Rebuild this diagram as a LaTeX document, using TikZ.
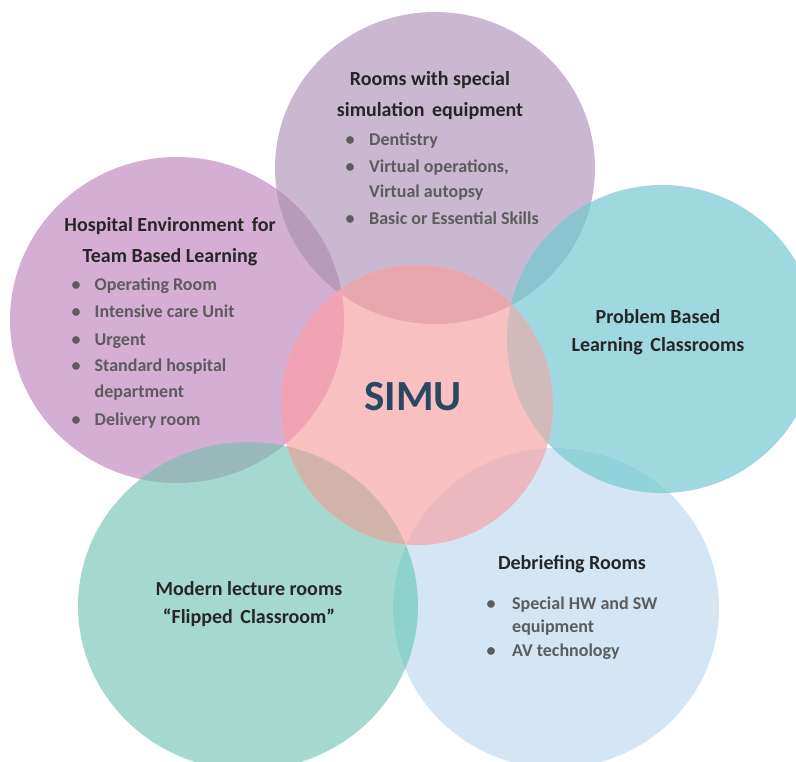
\documentclass[tikz,border=0pt]{standalone}
\usepackage{fontspec}
\setmainfont{Carlito}
\definecolor{cTop}{HTML}{C9B8CF}
\definecolor{cLeft}{HTML}{D4AFD3}
\definecolor{cRight}{HTML}{9FD9DF}
\definecolor{cBL}{HTML}{A5D9CF}
\definecolor{cBR}{HTML}{D4E5F4}
\definecolor{cMid}{HTML}{F8C0C0}
% overlap colours
\definecolor{oTopLeft}{HTML}{B89BBB}
\definecolor{oTopRight}{HTML}{8BC4CF}
\definecolor{oTopMid}{HTML}{E8A6AE}
\definecolor{oLeftMid}{HTML}{EFA3B5}
\definecolor{oLeftBL}{HTML}{98B8BA}
\definecolor{oRightMid}{HTML}{D2B9BC}
\definecolor{oRightBR}{HTML}{92D2DA}
\definecolor{oBLMid}{HTML}{D3B4AC}
\definecolor{oBRMid}{HTML}{EBB8C1}
\definecolor{oBLBR}{HTML}{8FD2CC}
\definecolor{headc}{HTML}{262626}
\definecolor{itemc}{HTML}{5C5C5C}
\definecolor{simuc}{HTML}{2B4863}
% circle outlines as reusable paths
\newcommand\pTop{(435,168) ellipse [x radius=160pt, y radius=156pt]}
\newcommand\pLeft{(177,320) ellipse [x radius=167pt, y radius=163pt]}
\newcommand\pRight{(662,339) ellipse [x radius=155pt, y radius=154pt]}
\newcommand\pBL{(248,606) ellipse [x radius=170pt, y radius=164pt]}
\newcommand\pBR{(556,608) ellipse [x radius=163pt, y radius=160pt]}
\newcommand\pMid{(417,405) ellipse [x radius=136pt, y radius=140pt]}
\newcommand\overlap[3]{\begin{scope}\clip #1; \fill[#3] #2; \end{scope}}
\tikzset{
  head/.style={font=\fontsize{20}{24}\selectfont\bfseries, text=headc, anchor=base, inner sep=0pt},
  item/.style={font=\fontsize{18}{22}\selectfont\bfseries, text=itemc, anchor=base west, inner sep=0pt},
  dot/.style={font=\fontsize{18}{22}\selectfont\bfseries, text=itemc, anchor=base, inner sep=0pt},
}
\begin{document}
\begin{tikzpicture}[x=1pt,y=-1pt]
\useasboundingbox (0,0) rectangle (796,762);
\begin{scope}
\clip (0,0) rectangle (796,762);
% discs
\fill[cTop] \pTop;
\fill[cLeft] \pLeft;
\fill[cRight] \pRight;
\fill[cBL] \pBL;
\fill[cBR] \pBR;
\fill[cMid] \pMid;
% pairwise overlaps of the outer discs
\overlap{\pTop}{\pLeft}{oTopLeft}
\overlap{\pTop}{\pRight}{oTopRight}
\overlap{\pLeft}{\pBL}{oLeftBL}
\overlap{\pRight}{\pBR}{oRightBR}
\overlap{\pBL}{\pBR}{oBLBR}
% overlaps with the central disc
\overlap{\pMid}{\pTop}{oTopMid}
\overlap{\pMid}{\pLeft}{oLeftMid}
\overlap{\pMid}{\pRight}{oRightMid}
\overlap{\pMid}{\pBL}{oBLMid}
\overlap{\pMid}{\pBR}{oBRMid}
\end{scope}

% centre label
\node[font=\fontsize{43}{50}\selectfont\bfseries, text=simuc, anchor=base, inner sep=0pt] (simu) at (413,410) {SIMU};

% top disc
\node[head] (top1) at (430,86) {Rooms with special};
\node[head] (top2) at (430,117) {simulation\hspace{3pt} equipment};
\node[dot] (td1) at (350,146) {\textbullet};
\node[item] (ti1) at (369,146) {Dentistry};
\node[dot] (td2) at (350,172.5) {\textbullet};
\node[item] (ti2) at (369,172.5) {Virtual operations,};
\node[item] (ti2b) at (369,198) {Virtual autopsy};
\node[dot] (td3) at (350,225) {\textbullet};
\node[item] (ti3) at (369,225) {Basic or Essential Skills};

% left disc
\node[head] (left1) at (170,232) {Hospital Environment\hspace{3pt} for};
\node[head] (left2) at (170,263) {Team Based Learning};
\node[dot] (ld1) at (76,291) {\textbullet};
\node[item] (li1) at (94.5,291) {Operating Room};
\node[dot] (ld2) at (76,318) {\textbullet};
\node[item] (li2) at (94.5,318) {Intensive care Unit};
\node[dot] (ld3) at (76,345) {\textbullet};
\node[item] (li3) at (94.5,345) {Urgent};
\node[dot] (ld4) at (76,372) {\textbullet};
\node[item] (li4) at (94.5,372) {Standard hospital};
\node[item] (li4b) at (94.5,397) {department};
\node[dot] (ld5) at (76,425) {\textbullet};
\node[item] (li5) at (94.5,425) {Delivery room};

% right disc
\node[head] (right1) at (658,323.5) {Problem Based};
\node[head] (right2) at (658,352) {Learning\hspace{3pt} Classrooms};

% lower left disc
\node[head] (bl1) at (249,595) {Modern lecture rooms};
\node[head] (bl2) at (249,623.5) {“Flipped\hspace{3pt} Classroom”};

% lower right disc
\node[head] (br1) at (572,569) {Debriefing Rooms};
\node[dot] (bd1) at (491,609) {\textbullet};
\node[item] (bi1) at (512,609) {Special HW and SW};
\node[item] (bi1b) at (512,632) {equipment};
\node[dot] (bd2) at (491,656) {\textbullet};
\node[item] (bi2) at (512,656) {AV technology};
\end{tikzpicture}
\end{document}
